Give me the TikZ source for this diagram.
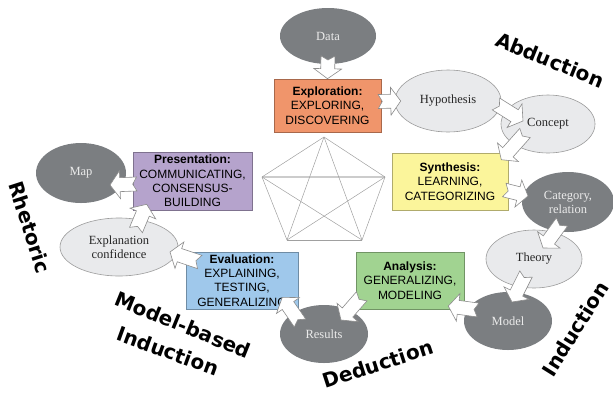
\documentclass[tikz,border=0pt]{standalone}
\usepackage{fontspec}
\setmainfont{Liberation Serif}
\setsansfont{Liberation Sans}
\newfontfamily\wordfont{DejaVu Sans}
\usetikzlibrary{shapes.geometric,calc}

\definecolor{darkoval}{HTML}{7B7E81}
\definecolor{lightoval}{HTML}{E9EAEC}
\definecolor{ovalline}{HTML}{9B9B9B}
\definecolor{explorcol}{HTML}{F0956B}
\definecolor{synthcol}{HTML}{FBF59B}
\definecolor{presentcol}{HTML}{B5A3CC}
\definecolor{evalcol}{HTML}{9FC8EB}
\definecolor{analyscol}{HTML}{A1D391}
\definecolor{arrowline}{HTML}{8C8C8C}
\definecolor{pentaline}{HTML}{A0A0A0}

\tikzset{
  darkov/.style n args={2}{ellipse, fill=darkoval, text=white!92!black, minimum width=#1bp, minimum height=#2bp, inner sep=0pt, align=center, font=\fontsize{12.5bp}{14bp}\selectfont},
  lightov/.style n args={2}{darkov={#1}{#2}, fill=lightoval, draw=ovalline, line width=0.6bp, text=black!85},
  stage/.style n args={3}{rectangle, fill=#1, draw=#1!70!black, line width=0.6bp, minimum width=#2bp, minimum height=#3bp, inner sep=0pt, align=center, font=\sffamily\fontsize{12bp}{14.3bp}\selectfont},
  flowbox/.style={draw=arrowline, fill=white, line width=0.6bp},
  bigword/.style={font=\wordfont\bfseries\fontsize{20bp}{21bp}\selectfont, inner sep=0pt}
}

\newcommand{\flow}[2]{%
  \coordinate (fa) at (#1);
  \coordinate (fb) at (#2);
  \path let \p1=($(fb)-(fa)$) in
    \pgfextra{\pgfmathparse{atan2(\y1,\x1)}\xdef\flang{\pgfmathresult}%
      \pgfmathparse{veclen(\x1,\y1)}\xdef\fllen{\pgfmathresult}};
  \begin{scope}[shift={(fa)},rotate=\flang]
    \draw[flowbox] (0pt,7pt) -- (4pt,0pt) -- (0pt,-7pt) -- (\fllen pt-10pt,-7pt) -- (\fllen pt-10pt,-14pt)
      -- (\fllen pt,0pt) -- (\fllen pt-10pt,14pt) -- (\fllen pt-10pt,7pt) -- cycle;
  \end{scope}}

\begin{document}
\begin{tikzpicture}[x=1bp,y=-1bp]
    \useasboundingbox (0,0) rectangle (613,392);

    \coordinate (p1) at (324,137);
    \coordinate (p2) at (385,177);
    \coordinate (p3) at (362,240);
    \coordinate (p4) at (287,240);
    \coordinate (p5) at (262,177);
    \draw[line width=1.6bp, color=black!20] (p5)--(p2);
    \foreach \a/\b in {p1/p2,p2/p3,p3/p4,p4/p5,p5/p1,p1/p3,p1/p4,p2/p4,p3/p5}
    \draw[pentaline, line width=0.5bp] (\a)--(\b);

    \node[darkov={96}{56}] (data) at (328,36) {Data};
    \node[lightov={106}{62}] (hypo) at (448,101) {Hypothesis};
    \node[lightov={94}{58}] (concept) at (548,124) {Concept};
    \node[darkov={92}{60}] (categ) at (568,202) {Category,\\relation};
    \node[lightov={96}{58}] (theory) at (534,259) {Theory};
    \node[darkov={88}{58}] (model) at (508,321) {Model};
    \node[darkov={88}{58}] (results) at (324,334) {Results};
    \node[lightov={118}{58}] (explconf) at (119,247) {Explanation\\confidence};
    \node[darkov={90}{60}] (map) at (81,173) {Map};

    \node[stage={explorcol}{107}{53}] (explor) at (327.5,105.5) {\textbf{Exploration:}\\EXPLORING,\\DISCOVERING};
    \node[stage={synthcol}{116}{57}] (synth) at (450,181.5) {\textbf{Synthesis:}\\LEARNING,\\CATEGORIZING};
    \node[stage={presentcol}{119}{58}] (present) at (192.5,181) {\textbf{Presentation:}\\COMMUNICATING,\\CONSENSUS-\\BUILDING};
    \node[stage={evalcol}{112}{57}] (evalu) at (242,280.5) {\textbf{Evaluation:}\\EXPLAINING,\\TESTING,\\GENERALIZING};
    \node[stage={analyscol}{108}{57}] (analys) at (410,280.5) {\textbf{Analysis:}\\GENERALIZING,\\MODELING};

    \flow{$(data)+(0,20)$}{explor.north}
    \flow{$(explor.east)+(-3,-4)$}{$(hypo.west)+(6,0)$}
    \flow{$(hypo)+(48,3)$}{$(concept)+(-25,-3)$}
    \flow{$(concept)+(-23,9)$}{$(synth.north east)+(-7,7)$}
    \flow{$(synth.east)+(-4,8.5)$}{$(categ)+(-40,-6)$}
    \flow{$(categ)+(-6,20)$}{$(theory)+(9,-11)$}
    \flow{$(theory)+(-8,15)$}{$(model)+(4,-19)$}
    \flow{$(model)+(-30,-11)$}{$(analys.east)+(-16,25.5)$}
    \flow{$(analys.south west)+(6,-13)$}{$(results)+(17,-14)$}
    \flow{$(results)+(-24,-11)$}{$(evalu.south east)+(-16,-12)$}
    \flow{$(evalu.west)+(14,-18.5)$}{$(explconf)+(51,5)$}
    \flow{$(explconf)+(17,-17)$}{$(present.south west)+(14,-6)$}
    \flow{$(present.west)+(4,3)$}{$(map)+(29,12)$}

    \node[bigword, rotate=-22] (abduct) at (550,60) {Abduction};
    \node[bigword, rotate=-72] (rhetor) at (30,227) {Rhetoric};
    \node[bigword, rotate=-22] (modelb) at (183,325) {Model-based};
    \node[bigword, rotate=-20] (induc1) at (168,351) {Induction};
    \node[bigword, rotate=18] (deduct) at (378,364) {Deduction};
    \node[bigword, rotate=58] (induc2) at (575,329) {Induction};
\end{tikzpicture}
\end{document}
